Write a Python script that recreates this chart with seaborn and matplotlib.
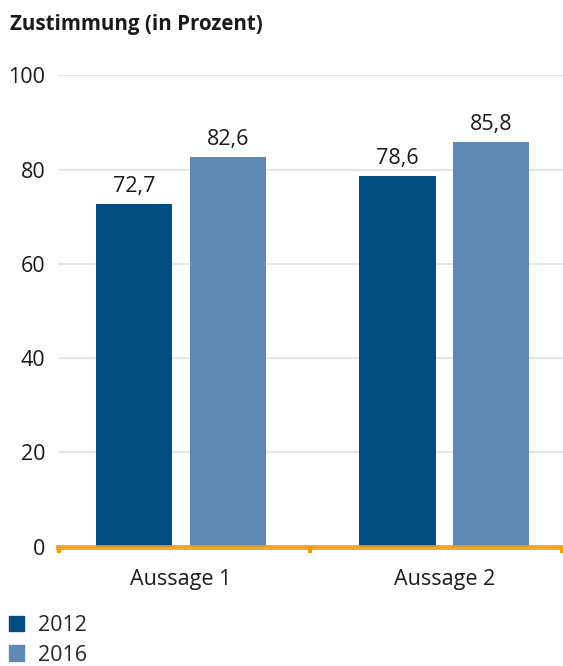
import pandas as pd
import matplotlib.pyplot as plt
import matplotlib.patches as mpatches
import seaborn as sns

categories = ["Aussage 1", "Aussage 2"]
years = ["2012", "2016"]
values_2012 = [72.7, 78.6]
values_2016 = [82.6, 85.8]
yticks = [0, 20, 40, 60, 80, 100]

df = pd.DataFrame({
    "Aussage": categories * 2,
    "Jahr": [years[0]] * 2 + [years[1]] * 2,
    "Wert": values_2012 + values_2016,
})

sns.set_style("white")
plt.rcParams["font.family"] = ["Open Sans", "DejaVu Sans"]

colors = {"2012": "#034e80", "2016": "#5e89b3"}
orange = "#f39c12"
txt = "#1a1a1a"
fs = 15.5

fig = plt.figure(figsize=(5.63, 6.66), dpi=100)
ax = fig.add_axes([0.103, 0.179, 0.897, 0.708])

sns.barplot(data=df, x="Aussage", y="Wert", hue="Jahr", palette=colors,
            saturation=1, width=0.713, gap=0.19, linewidth=0,
            ax=ax, legend=False, zorder=2)

for cont in ax.containers:
    ax.bar_label(cont, labels=[f"{v:.1f}".replace(".", ",") for v in cont.datavalues],
                 padding=5, fontsize=fs, color=txt)

ax.set_ylim(0, 100)
ax.set_xlim(-0.467, 1.45)
ax.set_yticks(yticks)
ax.set_yticklabels([str(t) for t in yticks], fontsize=fs, color=txt)
ax.yaxis.grid(True, color="#e0e0e0", linewidth=1.2, zorder=0)
ax.set_axisbelow(True)
ax.tick_params(axis="y", length=0, pad=9)
ax.tick_params(axis="x", which="major", bottom=True, length=0, pad=16,
               labelsize=fs, labelcolor=txt)
ax.set_xticks([-0.464, 0.49, 1.446], minor=True)
ax.tick_params(axis="x", which="minor", bottom=True, length=4, width=3,
               color=orange, direction="out")
ax.set_xlabel("")
ax.set_ylabel("")

for s in ["top", "right", "left"]:
    ax.spines[s].set_visible(False)
ax.spines["bottom"].set_color(orange)
ax.spines["bottom"].set_linewidth(3.5)
ax.spines["bottom"].set_alpha(0.9)
ax.spines["bottom"].set_zorder(5)

fig.text(0.018, 0.963, "Zustimmung (in Prozent)", fontsize=14.8, fontweight="bold",
         color=txt, va="center", ha="left")

handles = [mpatches.Patch(color=colors[y], label=y) for y in years]
fig.legend(handles=handles, loc="upper left", bbox_to_anchor=(0.0, 0.089),
           frameon=False, fontsize=fs, handlelength=0.7, handleheight=0.7,
           handletextpad=0.65, labelspacing=0.38, borderaxespad=0.2, borderpad=0.2)

fig.savefig("out.png", dpi=100)
plt.close(fig)
